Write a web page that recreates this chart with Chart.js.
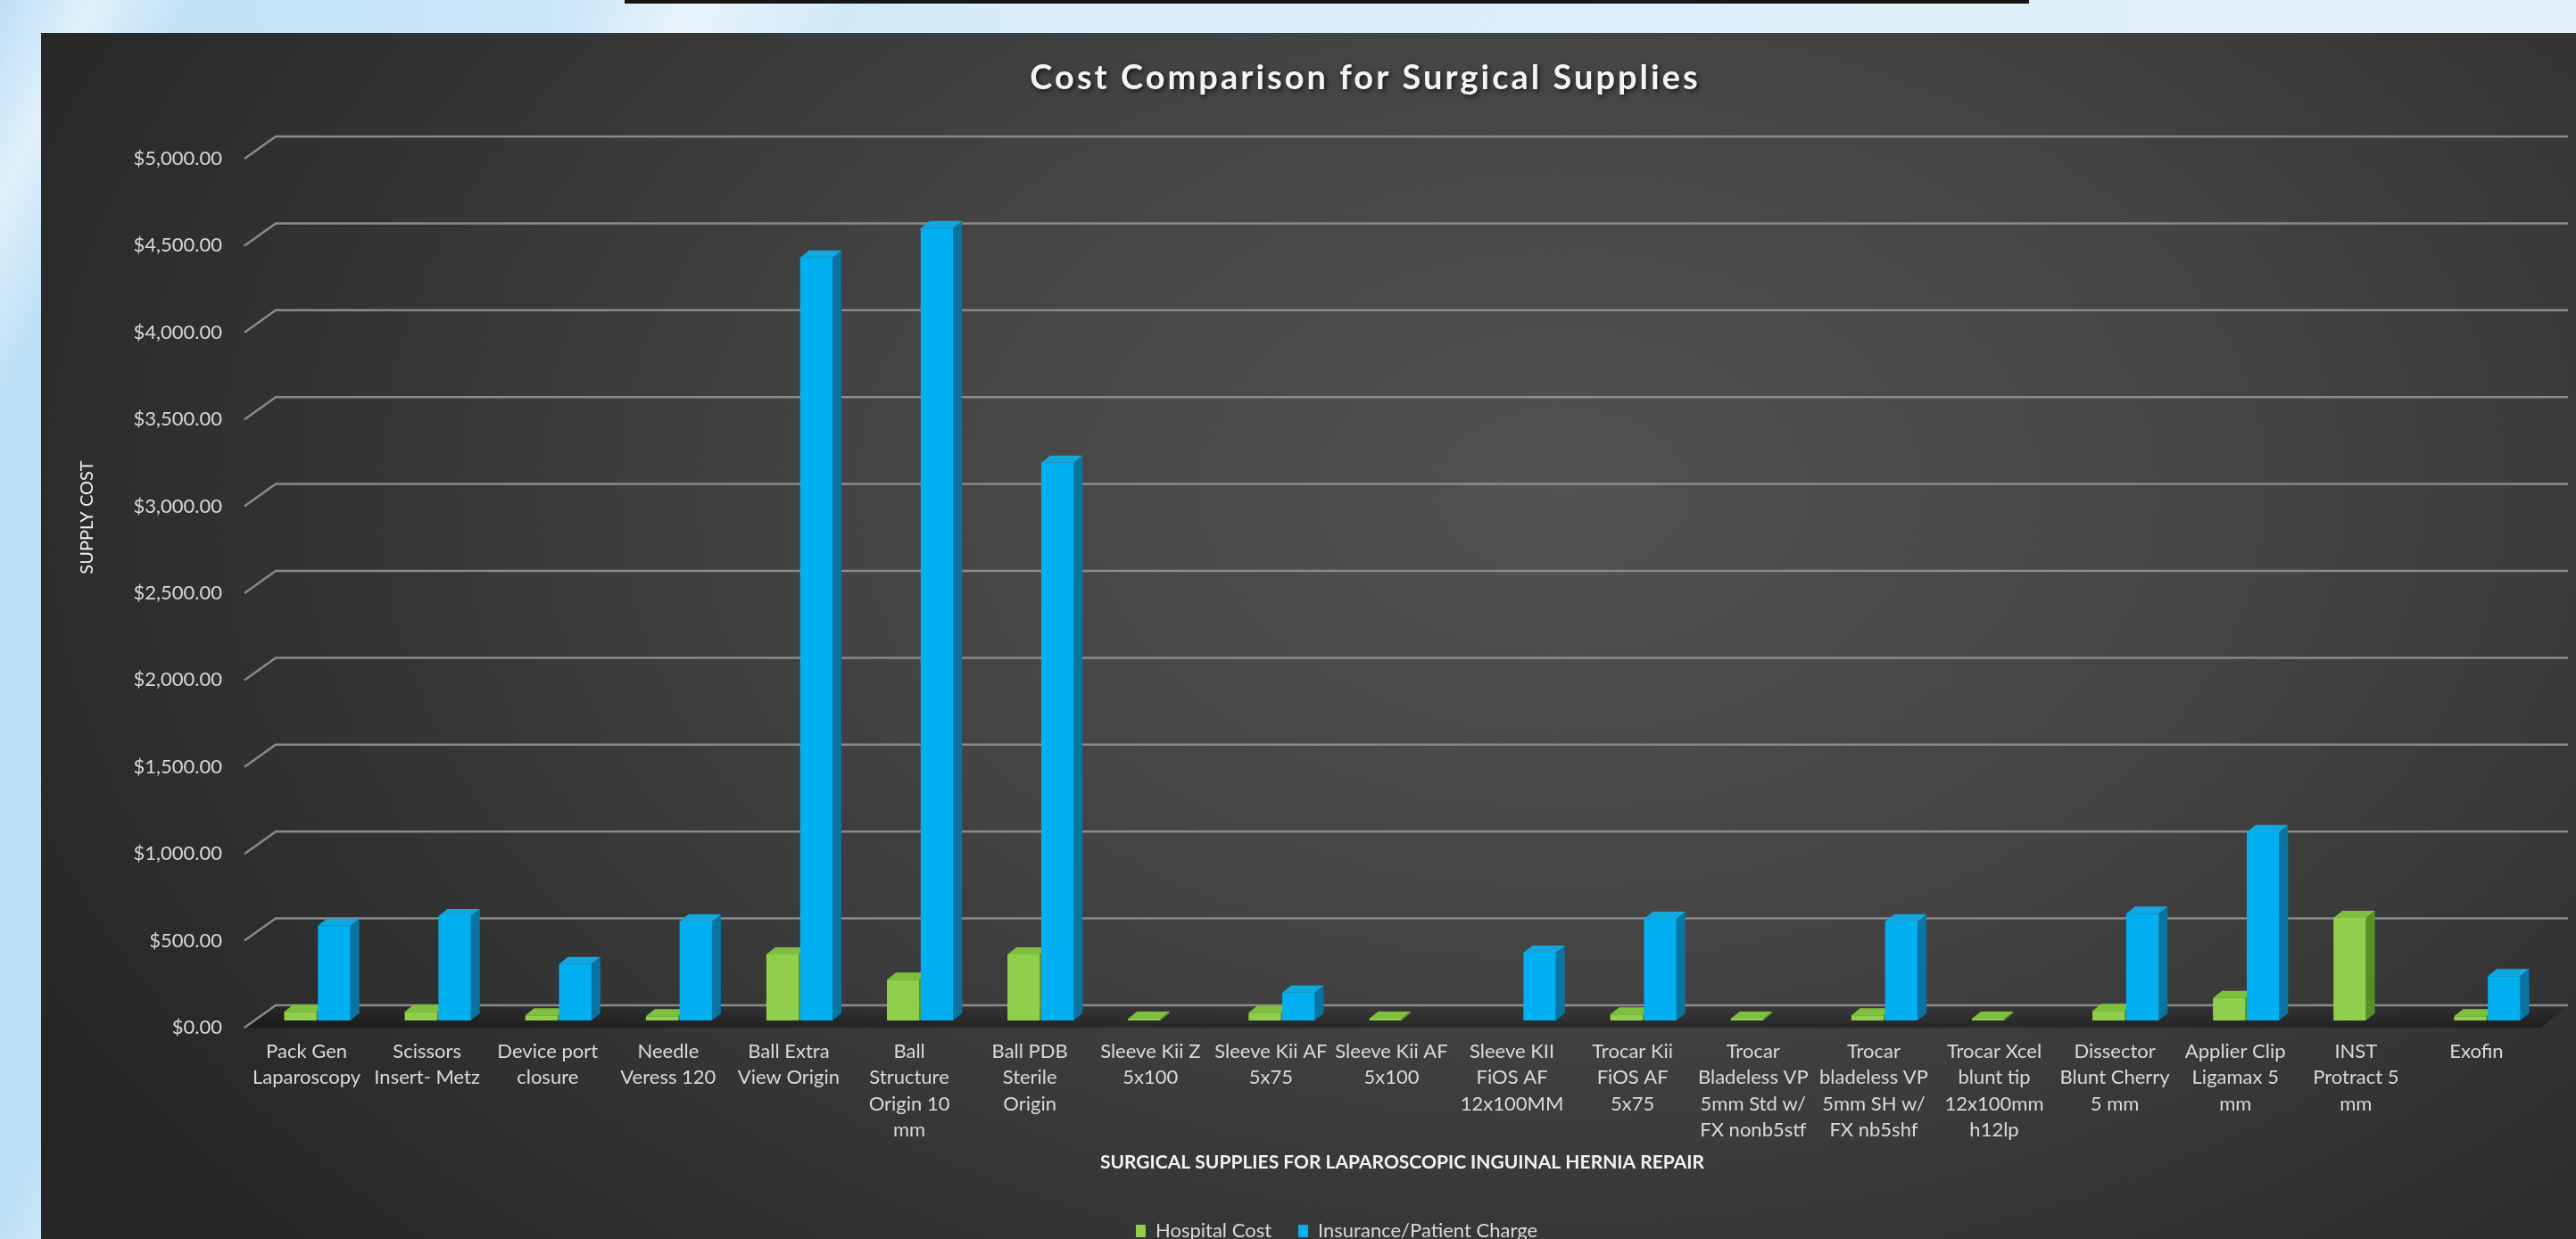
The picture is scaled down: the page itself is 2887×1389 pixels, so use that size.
<!DOCTYPE html>
<html lang="en">
<head>
    <meta charset="UTF-8">
    <title>Cost Comparison for Surgical Supplies</title>
    <script src="https://cdn.jsdelivr.net/npm/chart.js"></script>
    <style>
        html, body {
            margin: 0;
            padding: 0;
        }

        body {
            width: 2887px;
            height: 1389px;
            overflow: hidden;
            position: relative;
            font-family: 'Lato', sans-serif;
            background:
                linear-gradient(115deg, rgba(255,255,255,0) 0%, rgba(255,255,255,0.55) 3%, rgba(255,255,255,0) 6%, rgba(255,255,255,0) 18%, rgba(255,255,255,0.5) 22%, rgba(255,255,255,0) 27%),
                linear-gradient(90deg, #bcdff5 0%, #d8ecf9 40%, #e3f1fb 100%);
        }

        .top-bar {
            position: absolute;
            left: 700px;
            top: 0;
            width: 1574px;
            height: 4px;
            background-color: #151515;
        }

        .panel {
            position: absolute;
            left: 46px;
            top: 37px;
            width: 2841px;
            height: 1352px;
            overflow: hidden;
            background: radial-gradient(ellipse 68% 95% at 60% 38%, #525252 0%, #444444 40%, #323232 75%, #262626 100%);
        }

        .panel canvas {
            display: block;
        }
    </style>
</head>

<body>
    <div class="top-bar"></div>
    <div class="panel">
        <canvas id="costChart" width="2841" height="1364"></canvas>
    </div>

    <script>
        // categories (already split into the lines shown under each bar)
        const supplies = [
            ['Pack Gen', 'Laparoscopy'],
            ['Scissors', 'Insert- Metz'],
            ['Device port', 'closure'],
            ['Needle', 'Veress 120'],
            ['Ball Extra', 'View Origin'],
            ['Ball', 'Structure', 'Origin 10', 'mm'],
            ['Ball PDB', 'Sterile', 'Origin'],
            ['Sleeve Kii Z', '5x100'],
            ['Sleeve Kii AF', '5x75'],
            ['Sleeve Kii AF', '5x100'],
            ['Sleeve KII', 'FiOS AF', '12x100MM'],
            ['Trocar Kii', 'FiOS AF', '5x75'],
            ['Trocar', 'Bladeless VP', '5mm Std w/', 'FX nonb5stf'],
            ['Trocar', 'bladeless VP', '5mm SH w/', 'FX nb5shf'],
            ['Trocar Xcel', 'blunt tip', '12x100mm', 'h12lp'],
            ['Dissector', 'Blunt Cherry', '5 mm'],
            ['Applier Clip', 'Ligamax 5', 'mm'],
            ['INST', 'Protract 5', 'mm'],
            ['Exofin']
        ];

        const hospitalCost = [50, 50, 30, 25, 380, 235, 380, 10, 45, 10, 0, 35, 10, 30, 10, 55, 130, 590, 25];
        const patientCharge = [545, 600, 325, 570, 4390, 4560, 3210, 0, 160, 0, 390, 585, 0, 570, 0, 615, 1085, 0, 255];

        const seriesNames = ['Hospital Cost', 'Insurance/Patient Charge'];
        const yTicks = [0, 500, 1000, 1500, 2000, 2500, 3000, 3500, 4000, 4500, 5000];

        const chartTitle = 'Cost Comparison for Surgical Supplies';
        const yTitle = 'SUPPLY COST';
        const xTitle = 'SURGICAL SUPPLIES FOR LAPAROSCOPIC INGUINAL HERNIA REPAIR';

        // colours: front face, side face, top face
        const frontColors = ['#8fcf4c', '#00b0f0'];
        const sideColors = ['#568f26', '#0874a2'];
        const capColors = ['#7ebf3e', '#12a7de'];

        const money = v => '$' + v.toLocaleString('en-US', { minimumFractionDigits: 2, maximumFractionDigits: 2 });

        // back wall gridlines with the little slanted floor edge on the left
        const wallGrid = {
            id: 'wallGrid',
            beforeDatasetsDraw(chart) {
                const { ctx, chartArea, scales } = chart;
                const y = scales.y;
                const front = chartArea.left - 14;
                const back = chartArea.left + 21;
                const right = chartArea.right + 23;
                const y0 = y.getPixelForValue(0);

                ctx.save();
                // floor shadow
                const floor = ctx.createLinearGradient(0, y0 - 17, 0, y0 + 10);
                floor.addColorStop(0, 'rgba(0,0,0,0.10)');
                floor.addColorStop(1, 'rgba(0,0,0,0.40)');
                ctx.fillStyle = floor;
                ctx.beginPath();
                ctx.moveTo(front, y0 + 8);
                ctx.lineTo(back, y0 - 17);
                ctx.lineTo(right, y0 - 17);
                ctx.lineTo(right - 30, y0 + 8);
                ctx.closePath();
                ctx.fill();

                ctx.strokeStyle = '#8a8a8a';
                ctx.lineWidth = 2.5;
                yTicks.forEach(v => {
                    const p = y.getPixelForValue(v);
                    ctx.beginPath();
                    ctx.moveTo(front, p + 8);
                    ctx.lineTo(back, p - 17);
                    ctx.lineTo(right, p - 17);
                    ctx.stroke();
                });
                ctx.restore();
            }
        };

        // side and top faces so the bars look like the 3-D columns
        const barDepth = {
            id: 'barDepth',
            beforeDatasetsDraw(chart) {
                const ctx = chart.ctx;
                const dx = 10, dy = 8;
                ctx.save();
                chart.data.datasets.forEach((ds, di) => {
                    const meta = chart.getDatasetMeta(di);
                    meta.data.forEach((bar, i) => {
                        if (!ds.data[i]) return;
                        const { x, y, base, width } = bar.getProps(['x', 'y', 'base', 'width'], true);
                        const l = x - width / 2;
                        const r = x + width / 2;

                        ctx.fillStyle = sideColors[di];
                        ctx.beginPath();
                        ctx.moveTo(r, y);
                        ctx.lineTo(r + dx, y - dy);
                        ctx.lineTo(r + dx, base - dy);
                        ctx.lineTo(r, base);
                        ctx.closePath();
                        ctx.fill();

                        ctx.fillStyle = capColors[di];
                        ctx.beginPath();
                        ctx.moveTo(l, y);
                        ctx.lineTo(l + dx, y - dy);
                        ctx.lineTo(r + dx, y - dy);
                        ctx.lineTo(r, y);
                        ctx.closePath();
                        ctx.fill();
                    });
                });
                ctx.restore();
            }
        };

        // spaced-out title with a soft shadow, and the axis title that sits
        // higher than the middle of the value axis
        const headings = {
            id: 'headings',
            afterDraw(chart) {
                const ctx = chart.ctx;
                ctx.save();
                ctx.fillStyle = '#f4f4f4';
                ctx.font = 'bold 38px Lato';
                ctx.letterSpacing = '3px';
                ctx.textAlign = 'center';
                ctx.textBaseline = 'middle';
                ctx.shadowColor = 'rgba(0,0,0,0.7)';
                ctx.shadowBlur = 5;
                ctx.shadowOffsetX = 2;
                ctx.shadowOffsetY = 2;
                ctx.fillText(chartTitle, 1484, 51);
                ctx.restore();

                ctx.save();
                ctx.translate(52, 543);
                ctx.rotate(-Math.PI / 2);
                ctx.fillStyle = '#f2f2f2';
                ctx.font = '20px Lato';
                ctx.textAlign = 'center';
                ctx.textBaseline = 'middle';
                ctx.fillText(yTitle, 0, 0);
                ctx.restore();
            }
        };

        Chart.defaults.font.family = 'Lato';
        Chart.defaults.color = '#d9d9d9';

        const ctx = document.getElementById('costChart').getContext('2d');
        const costChart = new Chart(ctx, {
            type: 'bar',
            data: {
                labels: supplies,
                datasets: [{
                    label: seriesNames[0],
                    data: hospitalCost,
                    backgroundColor: frontColors[0],
                    borderWidth: 0,
                    categoryPercentage: 0.56,
                    barPercentage: 0.96
                }, {
                    label: seriesNames[1],
                    data: patientCharge,
                    backgroundColor: frontColors[1],
                    borderWidth: 0,
                    categoryPercentage: 0.56,
                    barPercentage: 0.96
                }]
            },
            options: {
                responsive: false,
                maintainAspectRatio: false,
                animation: false,
                layout: {
                    padding: { left: 95, right: 32, top: 133, bottom: 0 }
                },
                plugins: {
                    title: { display: false },
                    legend: {
                        position: 'bottom',
                        labels: {
                            boxWidth: 11,
                            boxHeight: 14,
                            padding: 30,
                            color: '#d9d9d9',
                            font: { size: 22 }
                        }
                    },
                    tooltip: { enabled: false }
                },
                scales: {
                    x: {
                        grid: { display: false, drawTicks: false },
                        border: { display: false },
                        ticks: {
                            autoSkip: false,
                            maxRotation: 0,
                            minRotation: 0,
                            padding: 20,
                            labelOffset: -12,
                            color: '#d9d9d9',
                            font: { size: 22, lineHeight: 1.34 }
                        },
                        title: {
                            display: true,
                            text: xTitle,
                            color: '#f2f2f2',
                            font: { size: 21, weight: 'bold', lineHeight: 1.2 },
                            padding: { top: 0, bottom: 23 }
                        },
                        afterFit(scale) {
                            scale.height = 195;
                        }
                    },
                    y: {
                        min: 0,
                        max: 5000,
                        grid: { display: false, drawTicks: false },
                        border: { display: false },
                        ticks: {
                            stepSize: 500,
                            padding: 39,
                            labelOffset: 8,
                            color: '#d9d9d9',
                            font: { size: 22 },
                            callback: v => money(v)
                        },
                        afterFit(scale) {
                            scale.width = 147;
                        }
                    }
                }
            },
            plugins: [wallGrid, barDepth, headings]
        });
    </script>
</body>

</html>
